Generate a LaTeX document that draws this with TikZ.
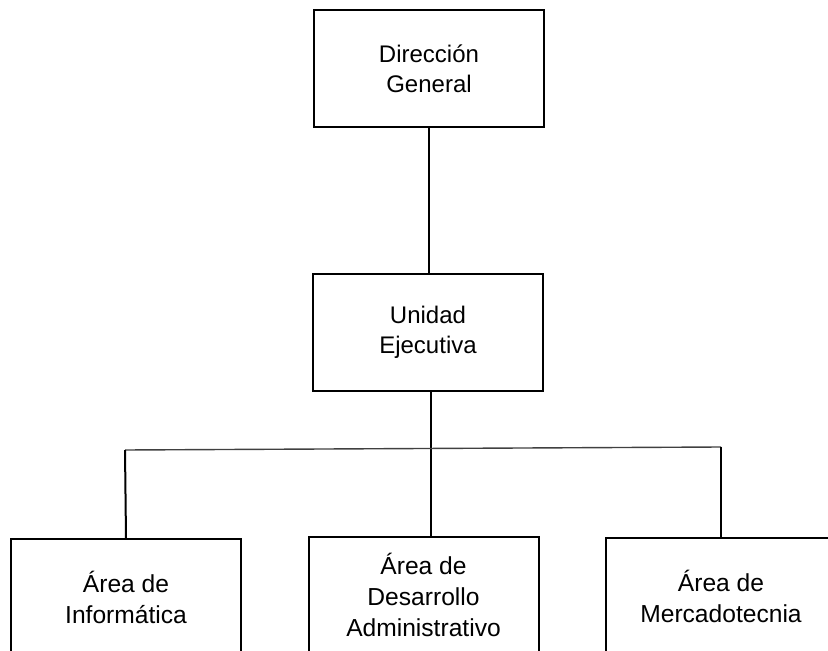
\documentclass[tikz,border=0pt]{standalone}
\usepackage{fontspec}
\setmainfont{Liberation Sans}
\usetikzlibrary{positioning}

\tikzset{
  unitbox/.style={draw, line width=1pt, rectangle, inner sep=0pt,
    minimum width=115pt, minimum height=58.5pt, align=center,
    font=\fontsize{12}{15}\selectfont},
  areabox/.style={unitbox, font=\fontsize{12.3}{15.5}\selectfont},
}

\begin{document}
\begin{tikzpicture}[x=0.5pt, y=-0.5pt]
\useasboundingbox (0,0) rectangle (828,651);
\clip (0,0) rectangle (828,651);
% upper levels
\node[unitbox] (dir) at (429,68.5) {Dirección\\General};
\node[unitbox] (uni) at (428,332.5) {Unidad\\Ejecutiva};
% areas
\node[areabox] (info) at (126,597.5) {Área de\\Informática};
\node[areabox] (desa) at (423.5,595) {Área de\\Desarrollo\\Administrativo};
\node[areabox] (merc) at (721,596.5) {Área de\\Mercadotecnia};
\coordinate (busL) at (125,450);
\coordinate (busR) at (721,447);
% connectors
\draw[line width=1pt] (dir.south) -- (dir.south |- uni.north);
\draw[line width=1pt] (uni.south -| 431,0) -- (desa.north -| 431,0);
\draw[line width=0.7pt, black!75] (busL) -- (busR);
\draw[line width=1pt] (busL) -- (info.north);
\draw[line width=1pt] (busR) -- (merc.north);
\end{tikzpicture}
\end{document}
